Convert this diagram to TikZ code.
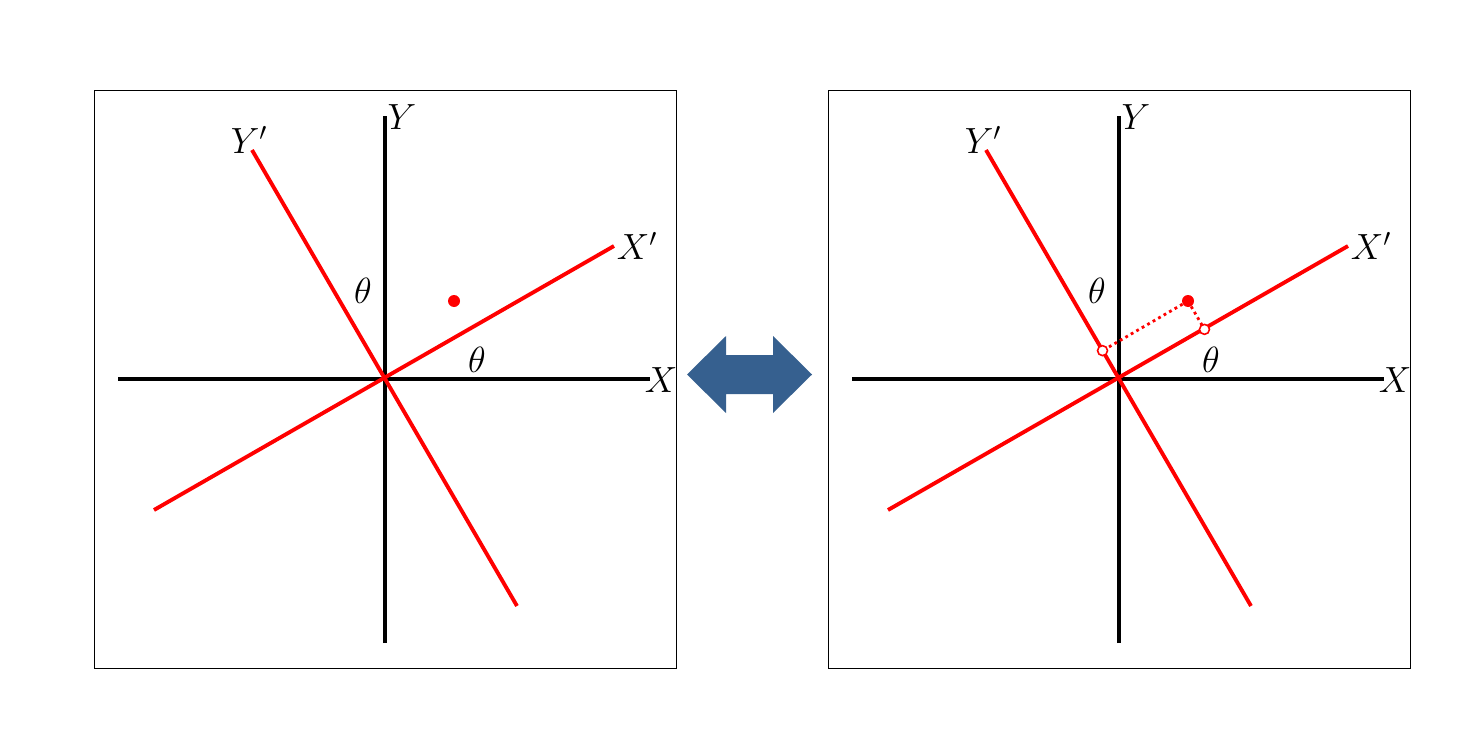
\documentclass[tikz,border=0pt]{standalone}
\usetikzlibrary{calc}
\definecolor{arrowblue}{RGB}{54,96,143}
\begin{document}
\begin{tikzpicture}[x=0.02cm,y=-0.02cm,
	axis/.style={line width=2.2pt},
	rot/.style={red,line width=2.2pt},
	lbl/.style={inner sep=0pt,font=\fontsize{20}{24}\selectfont},
	proj/.style={red,line width=1.6pt,dotted},
	hollow/.style={draw=red,fill=white,line width=0.9pt}]
	\useasboundingbox (0,0) rectangle (1484,750);

	% both panels
	\foreach \p/\dx in {l/0,r/734}{
		\begin{scope}[shift={(\dx,0)}]
			\draw[line width=0.5pt] (94,90) rectangle (676,668);
			\coordinate (\p-O) at (385,379);
			\coordinate (\p-xa) at (118,379);
			\coordinate (\p-xb) at (650,379);
			\coordinate (\p-ya) at (385,643);
			\coordinate (\p-yb) at (385,116);
			\coordinate (\p-ra) at (154,510);
			\coordinate (\p-rb) at (614,246);
			\coordinate (\p-sa) at (517,606);
			\coordinate (\p-sb) at (252,150);
			\coordinate (\p-P) at (454,301);

			\draw[axis] (\p-xa) -- (\p-xb);
			\draw[axis] (\p-ya) -- (\p-yb);
			\draw[rot] (\p-ra) -- (\p-rb);
			\draw[rot] (\p-sa) -- (\p-sb);
			\fill[red] (\p-P) circle (6);

			\node[lbl] (\p-X) at (661,380) {$X$};
			\node[lbl] (\p-Y) at (402,117) {$Y$};
			\node[lbl] (\p-Xr) at (637,246) {$X'$};
			\node[lbl] (\p-Yr) at (249,140) {$Y'$};
			\node[lbl] (\p-t1) at (363,291) {$\theta$};
			\node[lbl] (\p-t2) at (477,360) {$\theta$};
		\end{scope}
	}

	% projections on the rotated axes
	\coordinate (px) at ($(r-O)!(r-P)!(r-rb)$);
	\coordinate (py) at ($(r-O)!(r-P)!(r-sb)$);
	\draw[proj] (r-P) -- (px);
	\draw[proj] (r-P) -- (py);
	\filldraw[hollow] (px) circle (5)
					  (py) circle (5);

	% double arrow
	\fill[arrowblue] (687,374.5) -- (726,336) -- (726,355) -- (773,355) -- (773,336) --
		(812,374.5) -- (773,413) -- (773,394) -- (726,394) -- (726,413) -- cycle;
\end{tikzpicture}
\end{document}
